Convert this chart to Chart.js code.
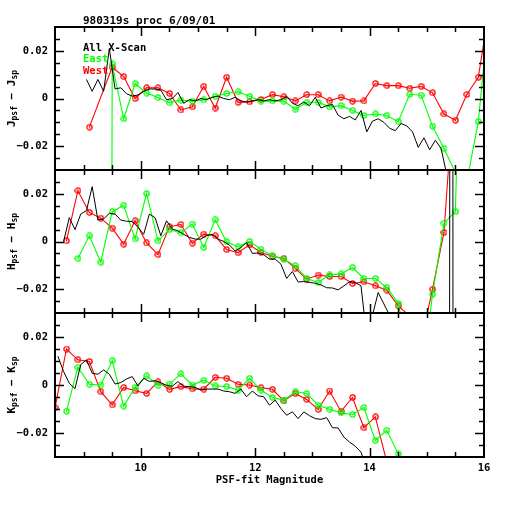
<!DOCTYPE html>
<html>
<head>
<meta charset="utf-8">
<script src="https://cdn.jsdelivr.net/npm/chart.js@4.4.1/dist/chart.umd.min.js"></script>
<style>
  html, body { margin: 0; padding: 0; background: #fff; }
  #wrap { position: relative; width: 512px; height: 512px; }
  #wrap canvas { position: absolute; left: 0; top: 0; }
</style>
</head>
<body>
<div id="wrap">
  <canvas id="panelJ" width="512" height="512"></canvas>
  <canvas id="panelH" width="512" height="512"></canvas>
  <canvas id="panelK" width="512" height="512"></canvas>
</div>
<script>
// magnitude bins of the East / West curves (0.2 mag)
const magBins = [8.5, 8.7, 8.9, 9.1, 9.3, 9.5, 9.7, 9.9, 10.1, 10.3, 10.5, 10.7, 10.9,
  11.1, 11.3, 11.5, 11.7, 11.9, 12.1, 12.3, 12.5, 12.7, 12.9, 13.1, 13.3, 13.5, 13.7,
  13.9, 14.1, 14.3, 14.5, 14.7, 14.9, 15.1, 15.3, 15.5, 15.7, 15.9, 16.1];

// magnitude bins of the All X-Scan curve (0.1 mag)
const magFine = [8.55, 8.65, 8.75, 8.85, 8.95, 9.05, 9.15, 9.25, 9.35, 9.45, 9.55, 9.65,
  9.75, 9.85, 9.95, 10.05, 10.15, 10.25, 10.35, 10.45, 10.55, 10.65, 10.75, 10.85, 10.95,
  11.05, 11.15, 11.25, 11.35, 11.45, 11.55, 11.65, 11.75, 11.85, 11.95, 12.05, 12.15,
  12.25, 12.35, 12.45, 12.55, 12.65, 12.75, 12.85, 12.95, 13.05, 13.15, 13.25, 13.35,
  13.45, 13.55, 13.65, 13.75, 13.85, 13.95, 14.05, 14.15, 14.25, 14.35, 14.45, 14.55,
  14.65, 14.75, 14.85, 14.95, 15.05, 15.15, 15.25, 15.35, 15.45, 15.55];

// J band
const allJ = [null, null, null, null, null, 0.008, 0.003, 0.008, 0.003, 0.021, 0.004, 0.0045,
  0.002, 0.001, 0.0015, 0.003, 0.004, 0.004, 0.0035, -0.0005, 0.0, 0.0025, -0.002, -0.0005, -0.001,
  0.0, -0.0005, 0.0005, 0.001, 0.0, -0.0005, 0.0005, -0.001, -0.0015, -0.001, -0.0005, -0.001,
  -0.0005, -0.001, -0.0005, 0.001, -0.002, -0.003, -0.0015, -0.003, 0.0005, -0.004, -0.003, -0.0025,
  -0.007, -0.0085, -0.0075, -0.009, -0.005, -0.014, -0.0095, -0.0085, -0.01, -0.0125, -0.0135, -0.0105,
  -0.0115, -0.014, -0.0205, -0.0165, -0.0215, -0.0175, -0.021, -0.032, -0.045, null];
const eastJ = [null, null, null, null, -2, 0.0145, -0.0085, 0.0062, 0.0023, 0.0004, -0.0018, -0.0007, -0.0011,
  -0.0006, 0.0009, 0.0021, 0.0028, 0.0009, -0.0011, -0.001, -0.0011, -0.0045, -0.0016, -0.0016, -0.0035, -0.003, -0.005,
  -0.0071, -0.0065, -0.0071, -0.0097, 0.0018, 0.0014, -0.0116, -0.021, -0.031, -0.035, -0.0097, 0.039];
const westJ = [null, null, null, -0.012, null, 0.0131, 0.0092, 0.0, 0.0045, 0.0045, 0.0021, -0.0048, -0.0035,
  0.0051, -0.004, 0.0089, -0.0016, -0.0014, -0.0004, 0.0016, 0.0007, -0.001, 0.0016, 0.0016, -0.001, 0.0006, -0.0011,
  -0.001, 0.0063, 0.0054, 0.0054, 0.0043, 0.0051, 0.0024, -0.0065, -0.0091, 0.0017, 0.0089, 0.039];

// H band
const allH = [null, 0.0, 0.01, 0.005, 0.0115, 0.013, 0.023, 0.009, 0.0095, 0.0118, 0.0115, 0.009,
  0.0085, 0.0084, 0.006, 0.003, 0.0115, 0.01, 0.0024, 0.0087, 0.0052, 0.0045, 0.003, 0.0017, 0.001,
  0.001, 0.0025, 0.003, 0.001, 0.0, -0.0015, -0.004, -0.0025, -0.0004, -0.005, -0.0048, -0.0056,
  -0.0074, -0.0074, -0.0095, -0.0155, -0.0126, -0.017, -0.0168, -0.0172, -0.0175, -0.0182, -0.0194, -0.0195,
  -0.0203, -0.0186, -0.0169, -0.0172, -0.0186, -0.04, -0.031, -0.0214, -0.0262, -0.031, -0.045, -0.05,
  -0.05, -0.06, -0.06, -0.07, -0.07, -0.08, -0.08, -1, 1, -30];
const eastH = [null, null, -0.0071, 0.0024, -0.0087, 0.0125, 0.0152, 0.0011, 0.0201, 0.0003, 0.005, 0.0036, 0.0073,
  -0.0025, 0.0091, -0.0001, -0.0022, 0.0, -0.0032, -0.006, -0.0074, -0.0102, -0.0155, -0.0172, -0.014, -0.0136, -0.0109,
  -0.0155, -0.0155, -0.0193, -0.026, -0.048, -0.062, -0.0221, 0.0077, 0.0125, 0.2, null, null];
const westH = [null, 0.0003, 0.0213, 0.0122, 0.0098, 0.0056, -0.0011, 0.0087, -0.0006, -0.0055, 0.0062, 0.0071, -0.0007,
  0.0031, 0.0024, -0.0034, -0.0047, -0.0014, -0.0046, -0.0062, -0.0071, -0.0113, -0.0158, -0.0141, -0.0147, -0.0147, -0.0176,
  -0.0169, -0.0186, -0.0204, -0.027, -0.0313, -0.042, -0.02, 0.0038, 0.072, null, null, null];

// K band
const allK = [0.012, 0.0056, 0.0007, -0.0015, 0.0085, 0.0105, 0.0049, 0.0045, 0.0063, 0.0045, 0.0004, 0.001,
  0.0025, 0.0035, -0.0004, 0.0028, 0.0015, 0.0018, 0.001, -0.0002, -0.0005, 0.0014, -0.0005, -0.0007, -0.001,
  -0.0021, -0.0017, -0.0017, -0.0017, -0.0025, -0.0028, -0.0035, -0.0017, -0.0049, -0.0025, -0.0045, -0.0049,
  -0.0084, -0.0063, -0.0098, -0.0126, -0.0112, -0.014, -0.0112, -0.0128, -0.014, -0.0143, -0.0136, -0.0178,
  -0.0179, -0.0217, -0.0238, -0.0255, -0.028, -0.035, null, null, null, null, null, null,
  null, null, null, null, null, null, null, null, null, null];
const eastK = [null, -0.0109, 0.0074, 0.0003, 0.0, 0.0101, -0.0088, -0.001, 0.0038, -0.0001, 0.0004, 0.0046, 0.0,
  0.002, -0.0004, -0.0006, -0.0021, 0.0028, -0.0021, -0.0052, -0.0063, -0.0028, -0.0035, -0.0084, -0.0101, -0.0116, -0.0123,
  -0.0094, -0.0231, -0.0189, -0.0287, -0.045, null, null, null, null, null, null, null];
const westK = [-0.0095, 0.015, 0.0105, 0.0098, -0.0028, -0.0083, -0.001, -0.0024, -0.0035, 0.0013, -0.0018, -0.0007, -0.0016,
  -0.0017, 0.0032, 0.0028, 0.0003, 0.0, -0.0011, -0.0018, -0.0066, -0.0035, -0.006, -0.0102, -0.0025, -0.011, -0.0052,
  -0.0178, -0.0133, -0.032, null, null, null, null, null, null, null, null, null];

const xTickLabels = [10, 12, 14, 16];
const yTickLabels = [-0.02, 0, 0.02];
const seriesNames = ['All X-Scan', 'East', 'West'];
const seriesColors = ['#000000', '#00ff00', '#ff0000'];
const plotTitle = '980319s proc 6/09/01';
const xTitle = 'PSF-fit Magnitude';

const FONT = '"DejaVu Sans Mono", monospace';

function toPoints(xs, ys) {
  return ys.map((v, i) => ({ x: xs[i], y: v }));
}

function fmtY(v) {
  if (v === 0) return '0';
  return (v < 0 ? '\u2212' : '') + Math.abs(v).toFixed(2);
}

// small ring with a dot in the middle, like the PGPLOT marker
function ringMarker(color) {
  const c = document.createElement('canvas');
  c.width = 7; c.height = 7;
  const g = c.getContext('2d');
  g.strokeStyle = color;
  g.lineWidth = 1.3;
  g.beginPath();
  g.arc(3.5, 3.5, 2.6, 0, Math.PI * 2);
  g.stroke();
  g.fillStyle = color;
  g.fillRect(3, 3, 1.2, 1.2);
  return c;
}

function drawBandTitle(ctx, band, cx, cy) {
  const main = 'bold 11px ' + FONT;
  const sub = 'bold 8px ' + FONT;
  const parts = [[band, main, 0], ['psf', sub, 2], [' \u2212 ', main, 0], [band, main, 0], ['sp', sub, 2]];
  ctx.save();
  ctx.translate(cx, cy);
  ctx.rotate(-Math.PI / 2);
  ctx.fillStyle = '#000';
  ctx.textBaseline = 'alphabetic';
  let total = 0;
  parts.forEach(p => { ctx.font = p[1]; total += ctx.measureText(p[0]).width; });
  let pos = -total / 2;
  parts.forEach(p => {
    ctx.font = p[1];
    ctx.fillText(p[0], pos, p[2]);
    pos += ctx.measureText(p[0]).width;
  });
  ctx.restore();
}

// PGPLOT style box: frame with inward ticks on all four sides
const boxPlugin = {
  id: 'pgBox',
  afterDraw(chart, args, opts) {
    const { ctx, chartArea: a, scales: { x, y } } = chart;
    ctx.save();
    ctx.strokeStyle = '#000';
    ctx.lineWidth = 1.5;
    ctx.beginPath();
    for (let v = 9; v < 16; v += 0.5) {
      const px = Math.round(x.getPixelForValue(v)) + 0.5;
      const len = (v % 2 === 0) ? 9 : 5;
      ctx.moveTo(px, a.bottom); ctx.lineTo(px, a.bottom - len);
      ctx.moveTo(px, a.top); ctx.lineTo(px, a.top + len);
    }
    for (let k = -5; k <= 5; k++) {
      const v = k * 0.005;
      const py = Math.round(y.getPixelForValue(v)) + 0.5;
      const len = (k % 4 === 0) ? 9 : 5;
      ctx.moveTo(a.left, py); ctx.lineTo(a.left + len, py);
      ctx.moveTo(a.right, py); ctx.lineTo(a.right - len, py);
    }
    ctx.stroke();
    ctx.lineWidth = 2;
    ctx.strokeRect(a.left, a.top, a.right - a.left, a.bottom - a.top);

    drawBandTitle(ctx, opts.band, 15, (a.top + a.bottom) / 2);

    if (opts.header) {
      ctx.fillStyle = '#000';
      ctx.textBaseline = 'middle';
      ctx.textAlign = 'left';
      ctx.font = 'bold 11px ' + FONT;
      ctx.fillText(plotTitle, 83, 21);
      ctx.font = 'bold 10.5px ' + FONT;
      chart.data.datasets.forEach((ds, i) => {
        ctx.fillStyle = ds.borderColor;
        ctx.fillText(ds.label, 83, 48 + i * 11.7);
      });
    }
    ctx.restore();
  }
};

function makeDatasets(all, east, west) {
  return [
    { label: seriesNames[0], data: toPoints(magFine, all), borderColor: seriesColors[0],
      borderWidth: 1, pointRadius: 0, spanGaps: true },
    { label: seriesNames[1], data: toPoints(magBins, east), borderColor: seriesColors[1],
      borderWidth: 1.1, pointStyle: ringMarker(seriesColors[1]), pointRadius: 3, spanGaps: true },
    { label: seriesNames[2], data: toPoints(magBins, west), borderColor: seriesColors[2],
      borderWidth: 1.1, pointStyle: ringMarker(seriesColors[2]), pointRadius: 3, spanGaps: true }
  ];
}

const panels = [
  { id: 'panelJ', band: 'J', top: 27, bottom: 170, all: allJ, east: eastJ, west: westJ, header: true, xAxis: false },
  { id: 'panelH', band: 'H', top: 170, bottom: 313, all: allH, east: eastH, west: westH, header: false, xAxis: false },
  { id: 'panelK', band: 'K', top: 313, bottom: 457, all: allK, east: eastK, west: westK, header: false, xAxis: true }
];

const xAxisHeight = 40;

panels.forEach(p => {
  new Chart(document.getElementById(p.id), {
    type: 'line',
    data: { datasets: makeDatasets(p.all, p.east, p.west) },
    options: {
      responsive: false,
      animation: false,
      events: [],
      layout: {
        padding: {
          left: 10,
          right: 28,
          top: p.top,
          bottom: p.xAxis ? 512 - p.bottom - xAxisHeight : 512 - p.bottom
        }
      },
      elements: { line: { tension: 0 } },
      scales: {
        x: {
          type: 'linear',
          min: 8.5,
          max: 16,
          display: p.xAxis,
          grid: { display: false, drawTicks: false },
          border: { display: false },
          afterBuildTicks: s => { s.ticks = xTickLabels.map(v => ({ value: v })); },
          afterFit: s => { s.height = p.xAxis ? xAxisHeight : 0; },
          ticks: {
            padding: 5,
            color: '#000',
            font: { family: FONT, size: 10.5, weight: 'bold' },
            maxRotation: 0,
            callback: v => String(v)
          },
          title: {
            display: true,
            text: xTitle,
            color: '#000',
            font: { family: FONT, size: 10.5, weight: 'bold' },
            padding: { top: 0, bottom: 10 }
          }
        },
        y: {
          type: 'linear',
          min: -0.03,
          max: 0.03,
          grid: { display: false, drawTicks: false },
          border: { display: false },
          afterBuildTicks: s => { s.ticks = yTickLabels.map(v => ({ value: v })); },
          afterFit: s => { s.width = 45; },
          ticks: {
            padding: 7,
            color: '#000',
            font: { family: FONT, size: 10.5, weight: 'bold' },
            callback: v => fmtY(v)
          }
        }
      },
      plugins: {
        legend: { display: false },
        tooltip: { enabled: false },
        pgBox: { band: p.band, header: p.header }
      }
    },
    plugins: [boxPlugin]
  });
});
</script>
</body>
</html>
